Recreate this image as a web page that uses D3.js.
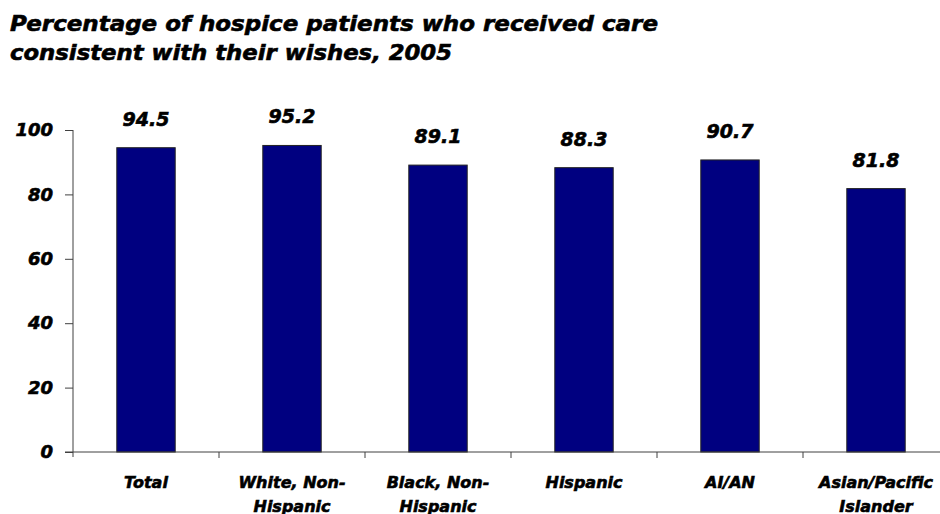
<!DOCTYPE html>
<html><head><meta charset="utf-8">
<script src="https://cdn.jsdelivr.net/npm/d3@7"></script>
<style>body{margin:0;background:#fff}svg{display:block}text{font-family:"DejaVu Sans",sans-serif;font-weight:bold;font-style:italic;stroke:#000;stroke-width:0.6px}</style>
</head><body>
<script>
const titleLines = ["Percentage of hospice patients who received care", "consistent with their wishes, 2005"];
const titleWidths = [648, 442];
const categories = [["Total"], ["White, Non-", "Hispanic"], ["Black, Non-", "Hispanic"], ["Hispanic"], ["AI/AN"], ["Asian/Pacific", "Islander"]];
const values = [94.5, 95.2, 89.1, 88.3, 90.7, 81.8];
const yTicks = [0, 20, 40, 60, 80, 100];

const W = 940, H = 514;
const svg = d3.select("body").append("svg").attr("width", W).attr("height", H);

svg.append("g").selectAll("text").data(titleLines).join("text")
  .attr("x", 10).attr("y", (d, i) => 31 + i * 29)
  .attr("font-size", 21).attr("fill", "#000")
  .attr("textLength", (d, i) => titleWidths[i]).attr("lengthAdjust", "spacingAndGlyphs")
  .text(d => d);

const keys = categories.map((c, i) => i);
const x = d3.scaleBand().domain(keys).range([73, 949]).paddingInner(0.6).paddingOuter(0.3);
const y = d3.scaleLinear().domain([0, 100]).range([452, 130]);

// y axis
const yAxis = svg.append("g").attr("transform", "translate(73,0)")
  .call(d3.axisLeft(y).tickValues(yTicks).tickSize(8).tickPadding(12));
yAxis.select(".domain").attr("stroke", "#404040").attr("d", `M0,${y(100)}V${y(0)+5}`);
yAxis.selectAll(".tick line").attr("stroke", "#404040");
yAxis.selectAll(".tick text").attr("font-size", 18).attr("fill", "#000")
  .attr("font-family", "DejaVu Sans");

// bars
svg.append("g").selectAll("rect").data(values).join("rect")
  .attr("x", (d, i) => x(i)).attr("width", x.bandwidth())
  .attr("y", d => y(d)).attr("height", d => y(0) - y(d))
  .attr("fill", "#000080").attr("stroke", "#222").attr("stroke-width", 1);

// x axis
const xAxis = svg.append("g").attr("transform", `translate(0,${y(0)})`);
xAxis.append("line").attr("x1", 65).attr("x2", W).attr("stroke", "#404040");
xAxis.selectAll("line.tk").data(keys.slice(1)).join("line").attr("class", "tk")
  .attr("x1", d => x(d) - x.bandwidth() * 0.75).attr("x2", d => x(d) - x.bandwidth() * 0.75)
  .attr("y1", 0).attr("y2", 6).attr("stroke", "#404040");

// category labels
const cl = svg.append("g").selectAll("text").data(categories).join("text")
  .attr("text-anchor", "middle").attr("font-size", 16).attr("fill", "#000");
cl.each(function(lines, i) {
  d3.select(this).selectAll("tspan").data(lines).join("tspan")
    .attr("x", x(i) + x.bandwidth() / 2).attr("y", (d, j) => 488 + j * 24).text(d => d);
});

// value labels
svg.append("g").selectAll("text").data(values).join("text")
  .attr("x", (d, i) => x(i) + x.bandwidth() / 2).attr("y", d => y(d) - 22)
  .attr("text-anchor", "middle").attr("font-size", 19).attr("fill", "#000")
  .text(d => d.toFixed(1));
</script>
</body></html>
